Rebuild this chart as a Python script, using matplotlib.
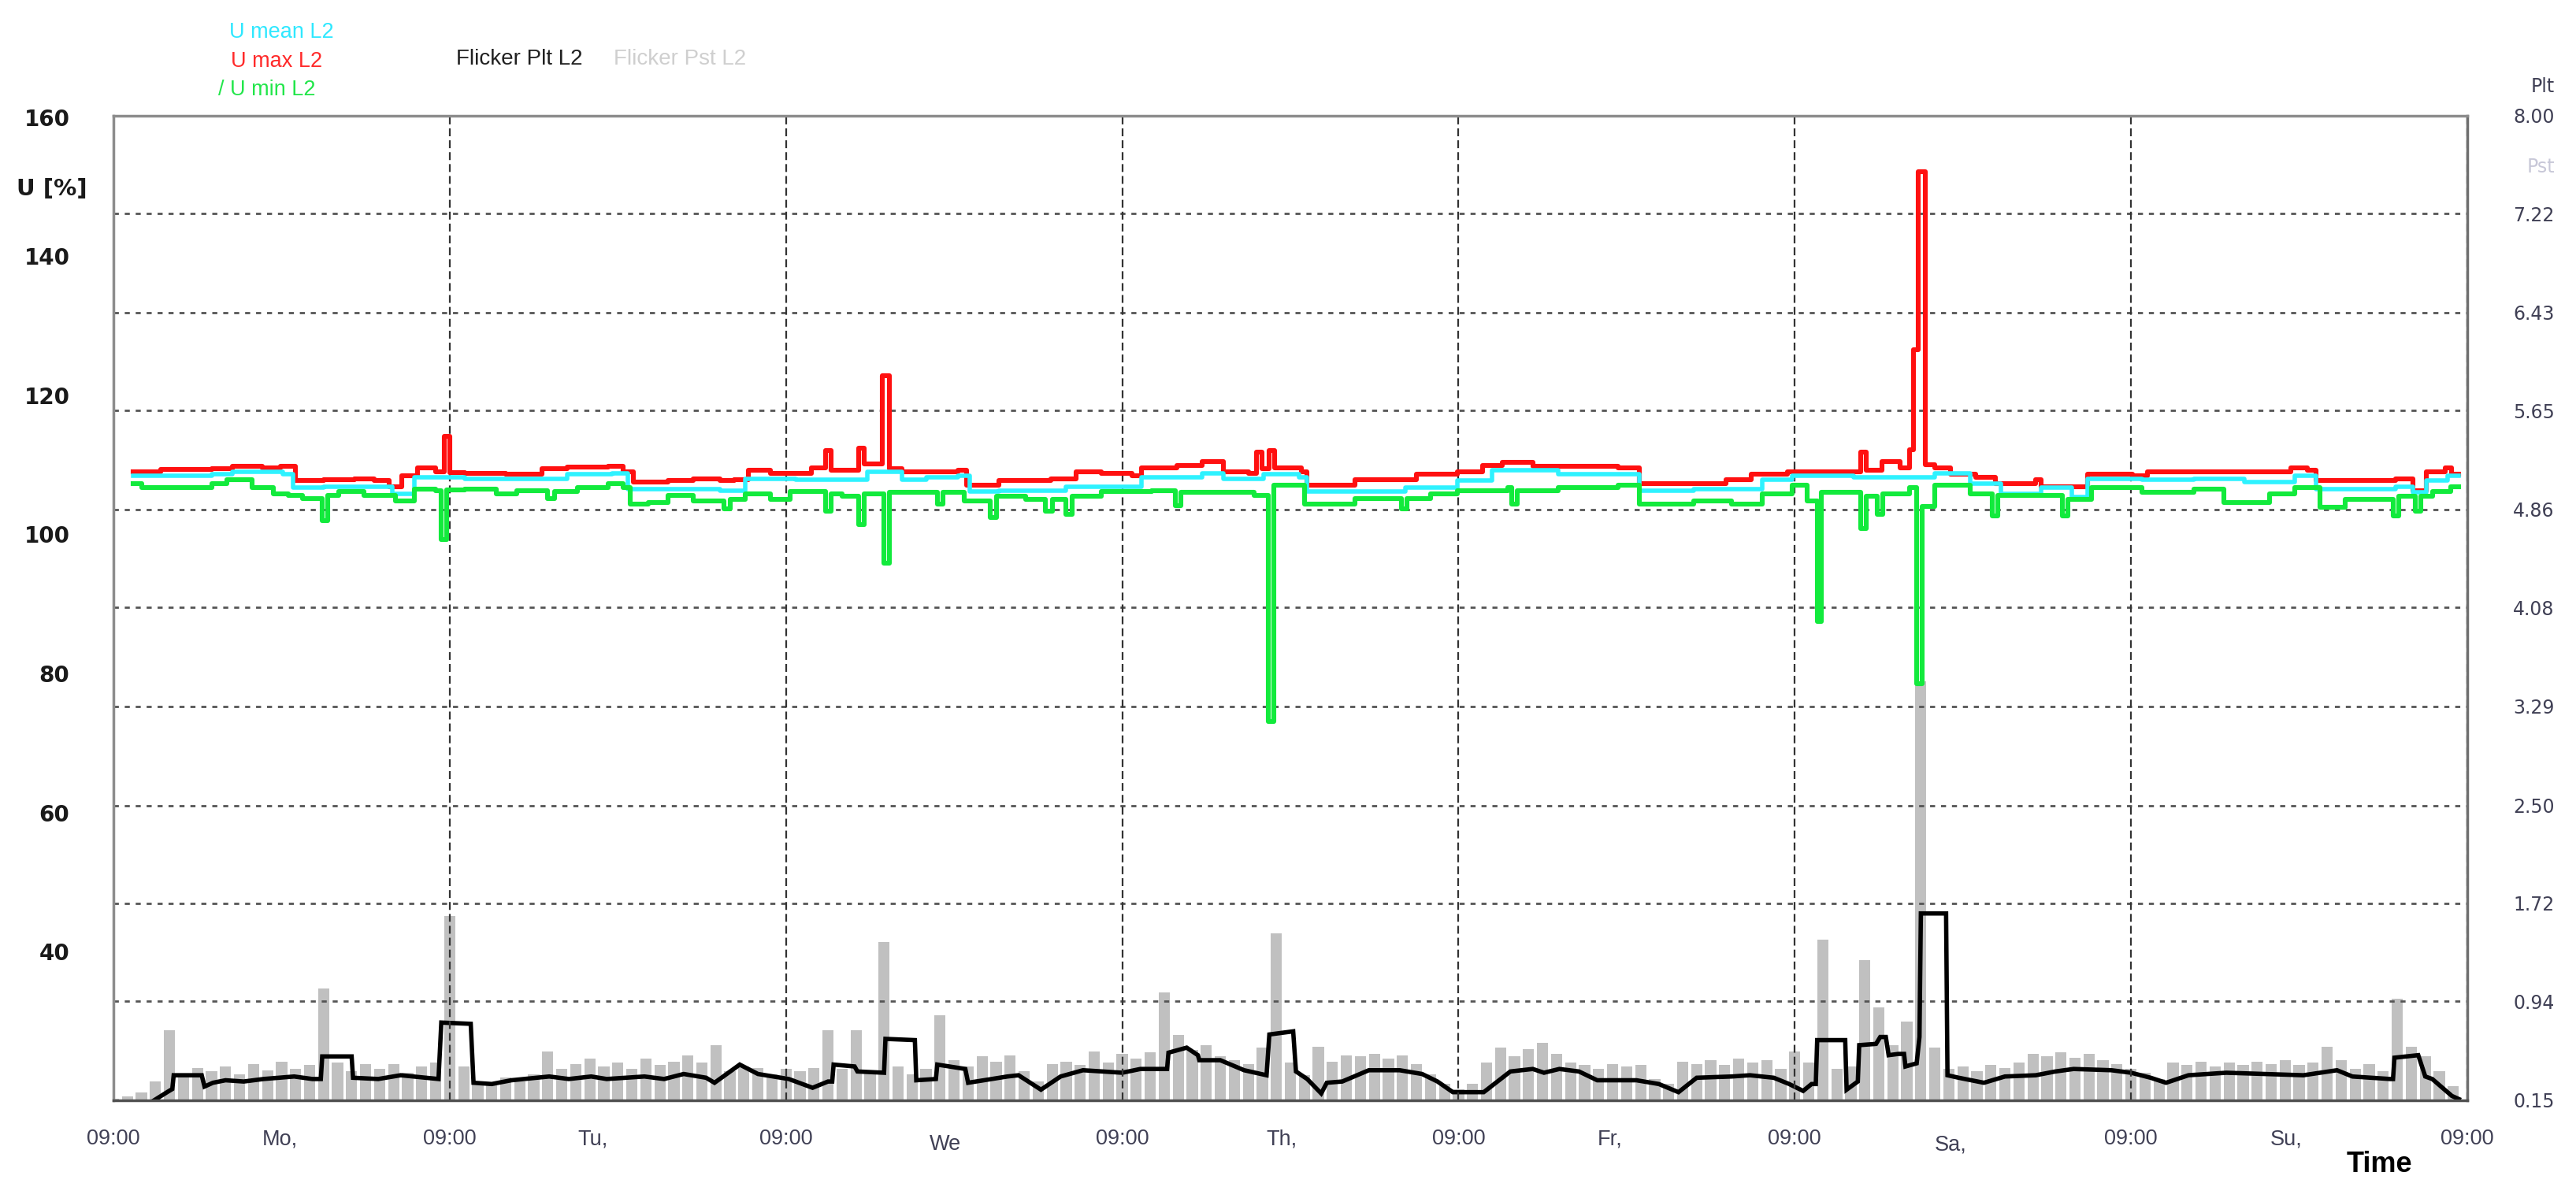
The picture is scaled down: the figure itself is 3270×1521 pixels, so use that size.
import numpy as np
import matplotlib
matplotlib.use('Agg')
import matplotlib.pyplot as plt

plt.rcParams['font.family'] = ['Liberation Sans', 'DejaVu Sans']

# x axis is hours after the first 09:00 mark (7 days shown)
day_ticks = [0, 24, 48, 72, 96, 120, 144, 168]
day_tick_labels = ['09:00'] * 8
weekday_pos = [11.9, 34.2, 59.4, 83.4, 106.8, 131.1, 155.1]
weekday_labels = ['Mo,', 'Tu,', 'We', 'Th,', 'Fr,', 'Sa,', 'Su,']

u_ticks = [40, 60, 80, 100, 120, 140, 160]
flicker_ticks = [0.15, 0.94, 1.72, 2.50, 3.29, 4.08, 4.86, 5.65, 6.43, 7.22, 8.00]

# U max L2 [%]
u_max_t = [1.4, 3.4, 7.0, 8.5, 10.6, 11.9, 13.0, 15.0, 17.2, 18.6,
           19.7, 20.6, 21.7, 23.0, 23.6, 24.0, 25.1, 28.0, 30.6, 32.4,
           35.3, 36.4, 37.1, 39.6, 41.4, 43.3, 44.3, 45.3, 46.9, 49.8,
           50.8, 51.2, 53.2, 53.6, 54.9, 55.4, 56.3, 60.3, 60.9, 63.2,
           66.9, 68.7, 70.5, 72.7, 73.4, 75.9, 77.7, 79.2, 81.0, 81.6,
           82.0, 82.5, 82.9, 84.8, 85.2, 88.6, 93.0, 95.9, 97.7, 99.1,
           101.3, 107.4, 108.9, 112.8, 115.1, 116.9, 119.5, 124.7, 125.1, 126.2,
           127.5, 128.2, 128.5, 128.8, 129.3, 130.0, 131.1, 132.9, 134.3, 137.2,
           137.6, 140.9, 144.1, 145.2, 155.4, 156.6, 157.2, 162.9, 164.1, 165.1,
           166.4, 166.9, 167.4]
u_max = [109.0, 109.3, 109.4, 109.8, 109.6, 109.8, 107.7, 107.9, 108.0, 107.7,
         106.9, 108.4, 109.6, 109.0, 114.1, 108.9, 108.8, 108.6, 109.4, 109.7,
         109.8, 109.0, 107.5, 107.7, 108.0, 107.7, 107.9, 109.2, 108.8, 109.6,
         112.0, 109.2, 112.4, 110.1, 122.8, 109.5, 109.0, 109.2, 107.1, 107.7,
         108.0, 109.0, 108.8, 108.4, 109.6, 109.9, 110.5, 109.0, 108.8, 111.8,
         109.5, 112.0, 109.6, 109.0, 107.1, 107.9, 108.6, 109.0, 109.9, 110.3,
         109.8, 109.6, 107.3, 107.3, 107.9, 108.6, 109.0, 111.8, 109.2, 110.5,
         109.6, 112.2, 126.6, 152.1, 110.0, 109.6, 108.6, 108.2, 107.3, 107.9,
         106.9, 108.6, 108.4, 109.0, 109.6, 109.2, 107.7, 108.0, 106.3, 109.0,
         109.6, 108.6, 108.6]

# U mean L2 [%]
u_mean_t = [1.4, 7.0, 8.5, 12.1, 12.8, 15.0, 19.9, 21.5, 25.1, 32.4,
            35.6, 36.7, 43.3, 45.1, 48.7, 53.8, 56.3, 58.0, 60.3, 61.1,
            63.2, 68.0, 73.4, 77.7, 79.2, 82.1, 84.6, 85.2, 92.2, 95.9,
            98.4, 103.1, 108.9, 112.8, 117.7, 119.8, 124.2, 130.0, 132.5, 134.7,
            137.6, 139.8, 140.9, 144.8, 148.5, 152.1, 155.7, 157.2, 162.9, 164.1,
            165.1, 166.6, 167.4]
u_mean = [108.4, 108.6, 109.0, 108.6, 106.7, 106.9, 105.8, 108.2, 108.0, 108.6,
          108.8, 106.5, 106.3, 108.0, 107.9, 109.0, 107.9, 108.2, 108.4, 106.2,
          106.3, 106.9, 108.2, 108.8, 108.0, 108.6, 108.2, 106.2, 106.7, 107.7,
          109.2, 108.6, 106.3, 106.5, 107.9, 108.4, 108.2, 108.8, 107.3, 105.8,
          106.7, 105.4, 108.0, 107.9, 108.0, 107.5, 108.4, 106.5, 106.9, 106.0,
          107.7, 108.4, 108.4]

# U min L2 [%]
u_min_t = [1.4, 2.0, 7.0, 8.1, 9.9, 11.4, 12.5, 13.5, 14.9, 15.3,
           16.1, 17.9, 20.1, 21.5, 23.0, 23.4, 23.8, 25.1, 27.3, 28.8,
           31.0, 31.5, 33.1, 35.3, 36.4, 36.9, 38.2, 39.6, 41.4, 43.6,
           44.0, 45.1, 46.9, 48.3, 50.8, 51.2, 52.0, 53.2, 53.6, 55.0,
           55.4, 58.8, 59.2, 60.7, 62.6, 63.0, 65.1, 66.5, 67.0, 68.0,
           68.4, 70.5, 74.1, 75.8, 76.2, 81.4, 82.4, 82.8, 85.0, 88.6,
           91.9, 92.3, 94.0, 95.9, 99.5, 99.8, 100.2, 103.1, 107.4, 108.9,
           112.8, 115.5, 117.7, 119.8, 120.9, 121.6, 121.9, 124.7, 125.1, 125.9,
           126.3, 128.2, 128.7, 129.1, 130.0, 132.5, 134.1, 134.5, 139.1, 139.5,
           141.2, 144.8, 148.5, 150.6, 153.9, 155.7, 157.5, 159.3, 162.7, 163.1,
           164.3, 164.7, 165.5, 166.8, 167.4]
u_min = [107.3, 106.7, 107.3, 107.9, 106.7, 105.8, 105.6, 105.2, 102.0, 105.6,
         106.2, 105.6, 104.8, 106.5, 106.3, 99.3, 106.4, 106.5, 105.8, 106.3,
         105.2, 106.2, 106.7, 107.3, 106.7, 104.4, 104.6, 105.6, 104.8, 103.7,
         105.0, 105.8, 105.0, 106.2, 103.3, 105.8, 105.5, 101.4, 105.8, 95.9,
         106.0, 104.3, 106.0, 104.8, 102.4, 105.5, 105.0, 103.3, 105.0, 102.9,
         105.5, 106.2, 106.3, 104.1, 106.0, 105.6, 73.1, 107.1, 104.4, 105.2,
         103.7, 105.2, 105.8, 106.3, 106.7, 104.4, 106.3, 106.7, 107.1, 104.4,
         104.8, 104.4, 105.8, 107.1, 104.8, 87.5, 106.0, 100.8, 105.5, 102.9,
         105.8, 106.7, 78.5, 104.0, 107.1, 105.8, 102.7, 105.6, 102.7, 105.0,
         106.7, 106.0, 106.5, 104.6, 105.8, 106.7, 103.9, 105.0, 102.7, 105.5,
         103.3, 105.5, 106.2, 106.9, 106.9]

# Flicker Plt L2
plt_t = [2.9, 3.9, 4.2, 4.3, 6.3, 6.5, 7.1, 8.0, 9.3, 10.7,
         12.9, 14.2, 14.8, 14.9, 17.0, 17.1, 18.9, 20.5, 23.2, 23.4,
         25.5, 25.7, 27.0, 28.4, 31.1, 32.5, 34.1, 35.2, 37.9, 39.3,
         40.7, 42.3, 42.9, 44.7, 46.0, 48.2, 49.9, 51.0, 51.3, 51.4,
         52.9, 53.1, 55.0, 55.1, 57.2, 57.3, 58.7, 58.8, 60.8, 61.0,
         63.8, 64.6, 66.2, 67.6, 69.2, 72.0, 73.3, 75.2, 75.3, 76.6,
         77.4, 77.5, 79.0, 80.7, 82.3, 82.5, 84.2, 84.4, 85.2, 86.2,
         86.6, 87.7, 89.6, 91.8, 93.4, 94.5, 95.6, 97.8, 99.7, 101.3,
         102.1, 103.2, 104.6, 105.9, 108.7, 110.3, 111.7, 113.0, 115.5, 116.8,
         118.5, 119.6, 120.6, 121.2, 121.5, 121.6, 123.6, 123.7, 124.5, 124.6,
         125.8, 126.1, 126.5, 126.7, 127.4, 127.8, 127.9, 128.7, 128.9, 129.0,
         130.8, 130.9, 131.7, 133.5, 135.0, 137.2, 138.6, 139.9, 142.6, 144.0,
         145.4, 146.5, 148.1, 150.8, 153.6, 156.3, 158.7, 159.8, 162.5, 162.7,
         162.8, 164.5, 165.0, 165.5, 166.9, 167.4]
plt_val = [0.15, 0.22, 0.24, 0.35, 0.35, 0.26, 0.29, 0.31, 0.30, 0.32,
           0.34, 0.32, 0.32, 0.50, 0.50, 0.33, 0.32, 0.35, 0.32, 0.77,
           0.76, 0.29, 0.28, 0.31, 0.34, 0.32, 0.34, 0.32, 0.34, 0.32,
           0.36, 0.33, 0.29, 0.435, 0.36, 0.32, 0.25, 0.30, 0.30, 0.435,
           0.42, 0.38, 0.37, 0.64, 0.63, 0.31, 0.32, 0.435, 0.40, 0.29,
           0.34, 0.35, 0.235, 0.34, 0.39, 0.37, 0.40, 0.40, 0.53, 0.57,
           0.51, 0.47, 0.47, 0.39, 0.35, 0.675, 0.70, 0.38, 0.32, 0.205,
           0.29, 0.30, 0.39, 0.39, 0.36, 0.30, 0.215, 0.215, 0.38, 0.40,
           0.37, 0.40, 0.38, 0.31, 0.31, 0.28, 0.215, 0.33, 0.34, 0.35,
           0.33, 0.28, 0.225, 0.28, 0.28, 0.63, 0.63, 0.235, 0.30, 0.59,
           0.60, 0.655, 0.655, 0.51, 0.52, 0.52, 0.42, 0.445, 0.655, 1.64,
           1.64, 0.35, 0.33, 0.29, 0.34, 0.35, 0.38, 0.40, 0.39, 0.37,
           0.33, 0.29, 0.35, 0.37, 0.36, 0.35, 0.39, 0.34, 0.32, 0.32,
           0.49, 0.51, 0.34, 0.32, 0.185, 0.16]

# Flicker Pst L2, one value per hour, day by day
pst_day1 = [0.16, 0.18, 0.21, 0.30, 0.71, 0.33, 0.41, 0.38, 0.42, 0.36, 0.44, 0.39,
            0.46, 0.40, 0.43, 1.04, 0.45, 0.38, 0.44, 0.40, 0.44, 0.37, 0.42, 0.45]
pst_day2 = [1.62, 0.42, 0.30, 0.27, 0.33, 0.30, 0.36, 0.54, 0.40, 0.44, 0.48, 0.42,
            0.45, 0.40, 0.48, 0.43, 0.46, 0.51, 0.45, 0.59, 0.38, 0.42, 0.41, 0.36]
pst_day3 = [0.40, 0.38, 0.41, 0.71, 0.40, 0.71, 0.38, 1.41, 0.42, 0.36, 0.40, 0.83,
            0.47, 0.42, 0.50, 0.46, 0.51, 0.38, 0.30, 0.44, 0.46, 0.43, 0.54, 0.45]
pst_day4 = [0.52, 0.48, 0.53, 1.01, 0.67, 0.55, 0.59, 0.50, 0.47, 0.44, 0.57, 1.48,
            0.45, 0.35, 0.58, 0.46, 0.51, 0.50, 0.52, 0.48, 0.51, 0.44, 0.36, 0.28]
pst_day5 = [0.24, 0.28, 0.45, 0.57, 0.50, 0.56, 0.61, 0.52, 0.45, 0.43, 0.40, 0.44,
            0.42, 0.43, 0.32, 0.28, 0.46, 0.44, 0.47, 0.43, 0.48, 0.45, 0.47, 0.40]
pst_day6 = [0.54, 0.45, 1.43, 0.40, 0.42, 1.27, 0.89, 0.59, 0.78, 3.49, 0.57, 0.40,
            0.42, 0.38, 0.43, 0.41, 0.45, 0.52, 0.50, 0.53, 0.49, 0.52, 0.47, 0.44]
pst_day7 = [0.40, 0.37, 0.32, 0.45, 0.43, 0.46, 0.42, 0.45, 0.43, 0.46, 0.44, 0.47,
            0.43, 0.45, 0.58, 0.47, 0.40, 0.44, 0.38, 0.96, 0.58, 0.50, 0.38, 0.26]

pst = np.array(pst_day1 + pst_day2 + pst_day3 + pst_day4 + pst_day5 + pst_day6 + pst_day7)
pst_hours = np.arange(len(pst))

fig = plt.figure(figsize=(32.7, 15.21), dpi=100)
ax = fig.add_axes([0.04404, 0.08153, 0.91376, 0.82183])
ax2 = ax.twinx()
ax.set_zorder(2)
ax2.set_zorder(1)
ax.patch.set_visible(False)

# flicker (right axis)
ax2.bar(pst_hours, pst - 0.15, bottom=0.15, width=0.8, color='#c0c0c0', linewidth=0)
ax2.plot(plt_t, plt_val, color='black', lw=4.0, solid_joinstyle='miter')
ax2.set_ylim(0.15, 8.0)
ax2.set_yticks(flicker_ticks)
ax2.set_yticklabels(['%.2f' % v for v in flicker_ticks], fontfamily='DejaVu Sans',
                    fontsize=17, color='#404055')
ax2.tick_params(axis='y', length=0, pad=42)
ax2.grid(True, axis='y', color='#555555', linewidth=2.0, linestyle=(0, (2.3, 2.7)))
for s in ax2.spines.values():
    s.set_visible(False)

# voltage (left axis)
ax.plot(u_max_t, u_max, color='#ff1010', lw=4.4, drawstyle='steps-post')
ax.plot(u_mean_t, u_mean, color='#2ef2ff', lw=4.0, drawstyle='steps-post')
ax.plot(u_min_t, u_min, color='#12ea3c', lw=4.4, drawstyle='steps-post')
ax.set_xlim(0, 168)
ax.set_ylim(18.6, 160.2)
ax.set_yticks(u_ticks)
ax.set_yticklabels([str(v) for v in u_ticks], fontfamily='DejaVu Sans',
                   fontweight='bold', fontsize=20, color='#1a1a1a')
ax.tick_params(axis='y', length=0, pad=40)
ax.set_xticks(day_ticks)
ax.set_xticklabels(day_tick_labels, fontsize=19.5, color='#404055')
ax.tick_params(axis='x', length=0, pad=26)
ax.grid(True, axis='x', color='#333333', linewidth=1.6, linestyle=(0, (4.5, 2.3)))

for i, lbl in enumerate(weekday_labels):
    off = 31 if lbl in ('We', 'Sa,') else 26
    ax.annotate(lbl, xy=(weekday_pos[i], 0), xycoords=('data', 'axes fraction'),
                xytext=(0, -off), textcoords='offset points', ha='center', va='top',
                fontsize=19.5, color='#404055')

ax.spines['left'].set_color('#8c8c8c')
ax.spines['top'].set_color('#8c8c8c')
ax.spines['right'].set_color('#6e6e6e')
ax.spines['bottom'].set_color('#505050')
for s in ax.spines.values():
    s.set_linewidth(2.5)

W, H = 3270.0, 1521.0
fig.text(291 / W, 1 - 41 / H, 'U mean L2', color='#2fe8ff', fontsize=19.5, va='center')
fig.text(293 / W, 1 - 78 / H, 'U max L2', color='#ff2a2a', fontsize=19.5, va='center')
fig.text(277 / W, 1 - 114 / H, '/ U min L2', color='#22e64a', fontsize=19.5, va='center')
fig.text(579 / W, 1 - 75 / H, 'Flicker Plt L2', color='#202020', fontsize=20, va='center')
fig.text(779 / W, 1 - 75 / H, 'Flicker Pst L2', color='#cfcfcf', fontsize=20, va='center')
fig.text(21 / W, 1 - 240 / H, 'U [%]', family='DejaVu Sans', fontweight='bold',
         fontsize=21, va='center', color='#1a1a1a')
fig.text(3243 / W, 1 - 110 / H, 'Plt', family='DejaVu Sans', fontsize=17,
         ha='right', va='center', color='#404055')
fig.text(3243 / W, 1 - 212 / H, 'Pst', family='DejaVu Sans', fontsize=17,
         ha='right', va='center', color='#c8c8d8')
fig.text(3020 / W, 1 - 1478 / H, 'Time', fontweight='bold', fontsize=26,
         ha='center', va='center', color='black')

fig.savefig('out.png', dpi=100)
